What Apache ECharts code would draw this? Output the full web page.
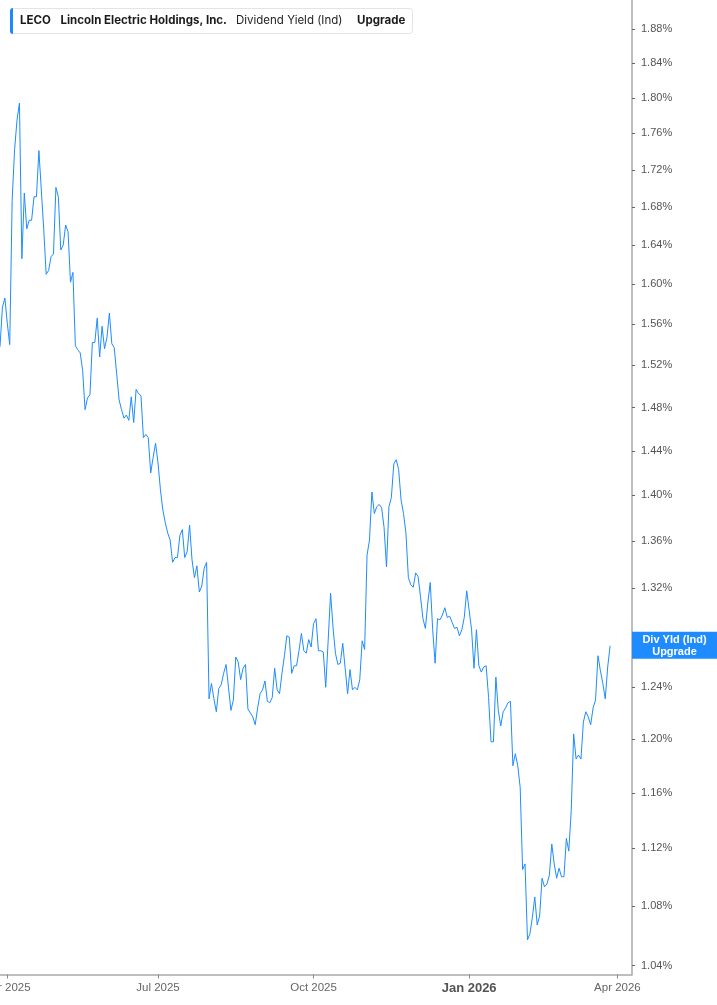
<!DOCTYPE html>
<html><head><meta charset="utf-8">
<script src="https://cdn.jsdelivr.net/npm/echarts@6/dist/echarts.min.js"></script>
<style>html,body{margin:0;padding:0;background:#fff}#c{width:717px;height:1005px}</style>
</head><body><div id="c"></div>
<script>
// ---- data ----
const startDate = '2025-03-27';
const endDate = '2026-04-10';
const holidays = ['2025-04-18','2025-05-26','2025-06-19','2025-07-04','2025-09-01','2025-11-27','2025-12-25','2026-01-01','2026-01-19','2026-02-16','2026-04-03'];
const divYield = [1.538,1.577,1.586,1.561,1.540,1.687,1.742,1.775,1.794,1.626,1.695,1.657,1.666,1.666,1.691,1.691,1.741,1.698,1.656,1.610,1.614,1.628,1.631,1.701,1.691,1.635,1.640,1.661,1.654,1.602,1.612,1.539,1.535,1.532,1.515,1.478,1.489,1.492,1.542,1.542,1.566,1.528,1.558,1.536,1.547,1.571,1.541,1.537,1.512,1.487,1.478,1.470,1.473,1.468,1.490,1.466,1.497,1.493,1.491,1.452,1.455,1.452,1.420,1.434,1.447,1.429,1.405,1.387,1.376,1.367,1.361,1.342,1.346,1.346,1.365,1.370,1.346,1.351,1.374,1.344,1.329,1.339,1.317,1.322,1.337,1.342,1.231,1.243,1.231,1.221,1.239,1.242,1.251,1.258,1.240,1.222,1.230,1.264,1.260,1.246,1.255,1.258,1.223,1.220,1.217,1.211,1.224,1.235,1.238,1.245,1.229,1.228,1.232,1.255,1.238,1.235,1.251,1.265,1.281,1.280,1.251,1.257,1.257,1.269,1.283,1.269,1.267,1.278,1.272,1.291,1.295,1.269,1.269,1.268,1.240,1.277,1.316,1.288,1.267,1.258,1.259,1.275,1.255,1.235,1.254,1.238,1.240,1.238,1.246,1.277,1.270,1.348,1.361,1.403,1.384,1.390,1.392,1.389,1.372,1.338,1.390,1.398,1.428,1.432,1.423,1.396,1.384,1.367,1.329,1.323,1.321,1.333,1.330,1.313,1.295,1.287,1.308,1.325,1.286,1.259,1.295,1.294,1.298,1.304,1.296,1.297,1.292,1.287,1.288,1.281,1.286,1.296,1.318,1.302,1.286,1.255,1.286,1.257,1.252,1.256,1.257,1.232,1.198,1.198,1.248,1.222,1.210,1.221,1.224,1.228,1.229,1.180,1.189,1.180,1.164,1.105,1.109,1.057,1.061,1.072,1.086,1.067,1.073,1.099,1.093,1.095,1.101,1.123,1.109,1.099,1.106,1.100,1.100,1.127,1.118,1.147,1.204,1.185,1.188,1.185,1.213,1.221,1.217,1.211,1.224,1.230,1.265,1.253,1.243,1.231,1.256,1.273];
const yTickValues = [1.04,1.08,1.12,1.16,1.20,1.24,1.28,1.32,1.36,1.40,1.44,1.48,1.52,1.56,1.60,1.64,1.68,1.72,1.76,1.80,1.84,1.88];
const monthNames = ['Jan','Feb','Mar','Apr','May','Jun','Jul','Aug','Sep','Oct','Nov','Dec'];
const labelMonths = [0,3,6,9];
const headerTicker = 'LECO';
const headerName = 'Lincoln Electric Holdings, Inc.';
const headerMetric = 'Dividend Yield (Ind)';
const headerAction = 'Upgrade';
const endLabelText = 'Div Yld (Ind)\nUpgrade';

// ---- trading-day categories ----
function tradingDays(from, to) {
  const out = [];
  const d = new Date(from + 'T00:00:00Z');
  const end = new Date(to + 'T00:00:00Z');
  while (d <= end) {
    const s = d.toISOString().slice(0, 10);
    const wd = d.getUTCDay();
    if (wd !== 0 && wd !== 6 && holidays.indexOf(s) < 0) out.push(s);
    d.setUTCDate(d.getUTCDate() + 1);
  }
  return out;
}
const dates = tradingDays(startDate, endDate);
function isQuarterStart(i) {
  if (i <= 0) return false;
  const m = +dates[i].slice(5, 7) - 1;
  const pm = +dates[i - 1].slice(5, 7) - 1;
  return m !== pm && labelMonths.indexOf(m) >= 0;
}

const LINE_COLOR = '#1e8cff';
const chart = echarts.init(document.getElementById('c'), null, {renderer: 'canvas'});
const option = {
  animation: false,
  backgroundColor: '#ffffff',
  grid: {left: 0, right: 85, top: 0, bottom: 30.5, outerBoundsMode: 'none', containLabel: false},
  xAxis: {
    type: 'category',
    data: dates,
    boundaryGap: false,
    axisLine: {show: true, onZero: false, lineStyle: {color: '#a9a9a9', width: 1.5}},
    axisTick: {show: true, length: 4, interval: (i) => isQuarterStart(i), lineStyle: {color: '#8a8a8a', width: 1}},
    axisLabel: {
      interval: (i) => isQuarterStart(i),
      margin: 7,
      color: '#666',
      fontFamily: 'Liberation Sans',
      fontSize: 11.5,
      formatter: (v) => {
        const m = +v.slice(5, 7) - 1;
        const txt = monthNames[m] + ' ' + v.slice(0, 4);
        return m === 0 ? '{b|' + txt + '}' : txt;
      },
      rich: {b: {fontWeight: 'bold', fontSize: 13, color: '#555', fontFamily: 'Liberation Sans'}}
    },
    splitLine: {show: false}
  },
  yAxis: {
    type: 'log',
    logBase: 10,
    position: 'right',
    min: 1.03408,
    max: 1.91497,
    axisLine: {show: true, lineStyle: {color: '#a9a9a9', width: 1.5}},
    axisTick: {show: true, length: 3, customValues: yTickValues, lineStyle: {color: '#666'}},
    axisLabel: {
      customValues: yTickValues,
      margin: 9,
      color: '#555',
      fontFamily: 'Liberation Sans',
      fontSize: 11,
      formatter: (v) => (+v).toFixed(2) + '%'
    },
    splitLine: {show: false},
    minorTick: {show: false}
  },
  series: [{
    type: 'line',
    data: divYield,
    showSymbol: false,
    symbol: 'none',
    clip: true,
    lineStyle: {color: LINE_COLOR, width: 1},
    itemStyle: {color: LINE_COLOR}
  }],
  graphic: {
    elements: [
      {type: 'rect', id: 'hbox', z: 50, shape: {x: 10.5, y: 8.5, width: 402, height: 25, r: 3}, style: {fill: '#fff', stroke: '#e4e4e4', lineWidth: 1}},
      {type: 'rect', id: 'hbar', z: 51, shape: {x: 10, y: 8, width: 3, height: 26, r: [3, 0, 0, 3]}, style: {fill: '#1e88ff'}},
      {type: 'text', id: 't1', z: 52, x: 20, y: 21, style: {text: headerTicker, fill: '#1a1a1a', fontFamily: 'Inter', fontWeight: 'bold', fontSize: 11.5, verticalAlign: 'middle'}},
      {type: 'text', id: 't2', z: 52, x: 60.5, y: 21, style: {text: headerName, fill: '#1a1a1a', fontFamily: 'Inter', fontWeight: 'bold', fontSize: 11.5, verticalAlign: 'middle'}},
      {type: 'text', id: 't3', z: 52, x: 236, y: 21, style: {text: headerMetric, fill: '#222', fontFamily: 'Inter', fontSize: 11.5, verticalAlign: 'middle'}},
      {type: 'text', id: 't4', z: 52, x: 357, y: 21, style: {text: headerAction, fill: '#1a1a1a', fontFamily: 'Inter', fontWeight: 'bold', fontSize: 11.5, verticalAlign: 'middle'}}
    ]
  }
};
chart.setOption(option);

// ---- end-value label, positioned through the chart's own scales ----
const lastIdx = divYield.length - 1;
function finite(v) { return typeof v === 'number' && isFinite(v); }
let py = NaN;
try {
  const p = chart.convertToPixel({seriesIndex: 0}, [lastIdx, divYield[lastIdx]]);
  if (p && finite(p[1])) py = p[1];
} catch (e) {}
if (!finite(py)) {
  try {
    const v = chart.convertToPixel({yAxisIndex: 0}, divYield[lastIdx]);
    if (finite(v)) py = v;
  } catch (e) {}
}
if (!finite(py)) {
  try {
    const pts = chart.getModel().getSeriesByIndex(0).getData().getLayout('points');
    if (pts && finite(pts[lastIdx * 2 + 1])) py = pts[lastIdx * 2 + 1];
  } catch (e) {}
}
let axisX = NaN;
try {
  const gr = chart.getModel().getComponent('grid', 0).coordinateSystem.getRect();
  axisX = gr.x + gr.width;
} catch (e) {}
if (!finite(axisX)) axisX = chart.getWidth() - 85;
const boxW = chart.getWidth() - axisX;
if (finite(py)) {
  chart.setOption({
    graphic: {
      elements: [
        {type: 'rect', id: 'endBox', z: 100, shape: {x: axisX, y: py - 14, width: boxW, height: 27}, style: {fill: LINE_COLOR}},
        {type: 'text', id: 'endTxt', z: 101, style: {text: endLabelText, x: axisX + boxW / 2, y: py, align: 'center', verticalAlign: 'middle', fill: '#fff', fontFamily: 'Liberation Sans', fontWeight: 'bold', fontSize: 11, lineHeight: 12}}
      ]
    }
  });
}
</script>
</body></html>
